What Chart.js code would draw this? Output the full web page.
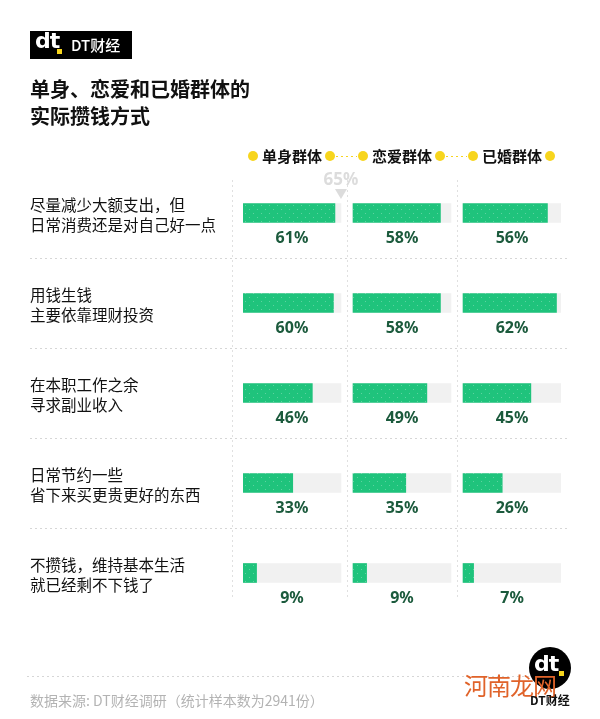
<!DOCTYPE html>
<html>
<head>
<meta charset="utf-8">
<script src="https://cdn.jsdelivr.net/npm/chart.js@4.4.1/dist/chart.umd.min.js"></script>
<style>
  html,body{margin:0;padding:0;background:#fff;}
  body{width:600px;height:719px;position:relative;overflow:hidden;font-family:"Noto Sans CJK SC","Noto Sans",sans-serif;}
  #c{position:absolute;left:0;top:0;}
  .abs{position:absolute;z-index:2;white-space:nowrap;}
  #logo{left:30px;top:31px;width:102px;height:28px;background:#000;}
  #logo .dt{position:absolute;left:5px;top:-3px;color:#fff;font:900 22px "DejaVu Sans",sans-serif;letter-spacing:-1px;}
  #logo .sq{position:absolute;left:27px;top:18px;width:5px;height:5px;background:#f7d51d;}
  #logo .nm{position:absolute;left:41px;top:3px;color:#fff;font:500 15px "Noto Sans CJK SC",sans-serif;line-height:22px;}
  #title{left:30px;top:75px;font:bold 20px "Noto Sans CJK SC",sans-serif;line-height:27px;color:#111;}
  #foot{left:30px;top:690px;font:14px "Noto Sans CJK SC",sans-serif;line-height:20px;color:#b3b3b3;}
  #circ{left:529px;top:647px;width:42px;height:42px;border-radius:50%;background:#000;}
  #circ .dt{position:absolute;left:5px;top:4px;color:#fff;font:900 22px "DejaVu Sans",sans-serif;letter-spacing:-1px;}
  #circ .sq{position:absolute;left:30px;top:24px;width:5px;height:5px;background:#f7d51d;}
  #wm{left:464px;top:668px;font:24px "Noto Sans CJK SC",sans-serif;line-height:34px;color:#e0632a;letter-spacing:-1px;}
  #dtcj{left:530px;top:692px;font:bold 12px "Noto Sans CJK SC",sans-serif;line-height:16px;color:#111;}
</style>
</head>
<body>
<canvas id="c" width="600" height="719" style="width:600px;height:719px"></canvas>
<div id="logo" class="abs"><span class="dt">dt</span><span class="sq"></span><span class="nm">DT财经</span></div>
<div id="title" class="abs">单身、恋爱和已婚群体的<br>实际攒钱方式</div>
<div id="foot" class="abs">数据来源: DT财经调研（统计样本数为2941份）</div>
<div id="circ" class="abs"><span class="dt">dt</span><span class="sq"></span></div>
<div id="wm" class="abs">河南龙网</div>
<div id="dtcj" class="abs">DT财经</div>
<script>
// ---- data ----
const categories = [
  ["尽量减少大额支出，但", "日常消费还是对自己好一点"],
  ["用钱生钱", "主要依靠理财投资"],
  ["在本职工作之余", "寻求副业收入"],
  ["日常节约一些", "省下来买更贵更好的东西"],
  ["不攒钱，维持基本生活", "就已经剩不下钱了"]
];
const groups = ["单身群体", "恋爱群体", "已婚群体"];
const singleValues  = [61, 60, 46, 33, 9];
const datingValues  = [58, 58, 49, 35, 9];
const marriedValues = [56, 62, 45, 26, 7];
const trackMax = 65;

// ---- layout constants ----
const GAP = 73;               // column offset in scale units
const FONT = '"Noto Sans CJK SC","Noto Sans",sans-serif';
const GREEN = '#1fc37c';
const TRACK = '#f1f1f1';
const VALUE_COLOR = '#1b5a3c';
const YELLOW = '#f7d51d';

function makePattern() {
  const t = document.createElement('canvas');
  t.width = 8; t.height = 8;
  const g = t.getContext('2d');
  g.fillStyle = GREEN; g.fillRect(0, 0, 8, 8);
  g.fillStyle = 'rgba(255,255,255,0.28)';
  g.fillRect(1, 1, 1, 1);
  g.fillRect(5, 5, 1, 1);
  return g.createPattern(t, 'repeat');
}
const ctxMain = document.getElementById('c').getContext('2d');
const pattern = makePattern();

const allValues = [singleValues, datingValues, marriedValues];
const datasets = [];
allValues.forEach((vals, g) => {
  datasets.push({
    label: groups[g],
    data: vals.map(v => [g * GAP, g * GAP + v]),
    backgroundColor: pattern,
    barThickness: 19, grouped: false, order: 0, borderWidth: 0,
    isValue: true, groupIndex: g, raw: vals
  });
});
allValues.forEach((vals, g) => {
  datasets.push({
    label: groups[g] + ' track',
    data: vals.map(() => [g * GAP, g * GAP + trackMax]),
    backgroundColor: TRACK,
    barThickness: 19, grouped: false, order: 1, borderWidth: 0
  });
});

const deco = {
  id: 'deco',
  beforeDatasetsDraw(chart) {
    const { ctx, scales: { x, y }, chartArea } = chart;
    ctx.save();
    ctx.strokeStyle = '#d6d6d6';
    ctx.lineWidth = 1;
    ctx.setLineDash([2, 3]);
    // horizontal separators between rows
    for (let i = 0; i < categories.length - 1; i++) {
      const yy = Math.round((y.getPixelForValue(i) + y.getPixelForValue(i + 1)) / 2) + 0.5;
      ctx.beginPath(); ctx.moveTo(30, yy); ctx.lineTo(570, yy); ctx.stroke();
    }
    // bottom separator above the source note
    ctx.beginPath(); ctx.moveTo(27, 676.5); ctx.lineTo(560, 676.5); ctx.stroke();
    // vertical separators
    ctx.strokeStyle = '#e0e0e0';
    const xs = [x.getPixelForValue(0) - 11];
    for (let g = 0; g < groups.length - 1; g++) {
      xs.push((x.getPixelForValue(g * GAP + trackMax) + x.getPixelForValue((g + 1) * GAP)) / 2);
    }
    xs.forEach(px => {
      const xx = Math.round(px) + 0.5;
      ctx.beginPath(); ctx.moveTo(xx, chartArea.top + 12); ctx.lineTo(xx, chartArea.bottom - 18); ctx.stroke();
    });
    ctx.setLineDash([]);
    // max marker "65%"
    const mx = x.getPixelForValue(trackMax);
    ctx.fillStyle = '#dcdcdc';
    ctx.font = 'bold 17px "Noto Sans",sans-serif';
    ctx.textAlign = 'center'; ctx.textBaseline = 'middle';
    ctx.fillText(trackMax + '%', mx, 180);
    ctx.beginPath(); ctx.moveTo(mx - 6, 189); ctx.lineTo(mx + 6, 189); ctx.lineTo(mx, 199); ctx.closePath(); ctx.fill();
    // legend
    const ly = 156;
    const centers = groups.map((_, g) => x.getPixelForValue(g * GAP + trackMax / 2));
    ctx.strokeStyle = YELLOW; ctx.lineWidth = 1.2; ctx.setLineDash([2, 3]);
    for (let g = 0; g < groups.length - 1; g++) {
      ctx.beginPath(); ctx.moveTo(centers[g] + 44, ly + 0.5); ctx.lineTo(centers[g + 1] - 45, ly + 0.5); ctx.stroke();
    }
    ctx.setLineDash([]);
    groups.forEach((name, g) => {
      const cx = centers[g];
      ctx.fillStyle = YELLOW;
      [cx - 39, cx + 38].forEach(dx => { ctx.beginPath(); ctx.arc(dx, ly, 5, 0, Math.PI * 2); ctx.fill(); });
      ctx.fillStyle = '#111';
      ctx.font = 'bold 15px ' + FONT;
      ctx.textAlign = 'center'; ctx.textBaseline = 'middle';
      ctx.fillText(name, cx, ly);
    });
    ctx.restore();
  },
  afterDatasetsDraw(chart) {
    const { ctx, scales: { x } } = chart;
    ctx.save();
    ctx.fillStyle = VALUE_COLOR;
    ctx.font = 'bold 16px "Noto Sans",sans-serif';
    ctx.textAlign = 'center'; ctx.textBaseline = 'middle';
    chart.data.datasets.forEach((ds, di) => {
      if (!ds.isValue) return;
      const meta = chart.getDatasetMeta(di);
      const cx = x.getPixelForValue(ds.groupIndex * GAP + trackMax / 2);
      meta.data.forEach((bar, i) => {
        ctx.fillText(ds.raw[i] + '%', cx, bar.y + 25);
      });
    });
    ctx.restore();
  }
};

new Chart(ctxMain, {
  type: 'bar',
  data: { labels: categories, datasets },
  options: {
    indexAxis: 'y',
    responsive: false,
    animation: false,
    devicePixelRatio: 1,
    layout: { padding: { left: 30, right: 39, top: 168, bottom: 101 } },
    scales: {
      x: { type: 'linear', min: 0, max: 2 * GAP + trackMax, display: false },
      y: {
        grid: { display: false },
        border: { display: false },
        ticks: {
          crossAlign: 'far',
          color: '#111',
          padding: 0,
          labelOffset: 2,
          font: { family: FONT, size: 15.5, lineHeight: 1.3 }
        },
        afterFit(s) { s.width = 213; }
      }
    },
    plugins: { legend: { display: false }, tooltip: { enabled: false } }
  },
  plugins: [deco]
});
</script>
</body>
</html>
